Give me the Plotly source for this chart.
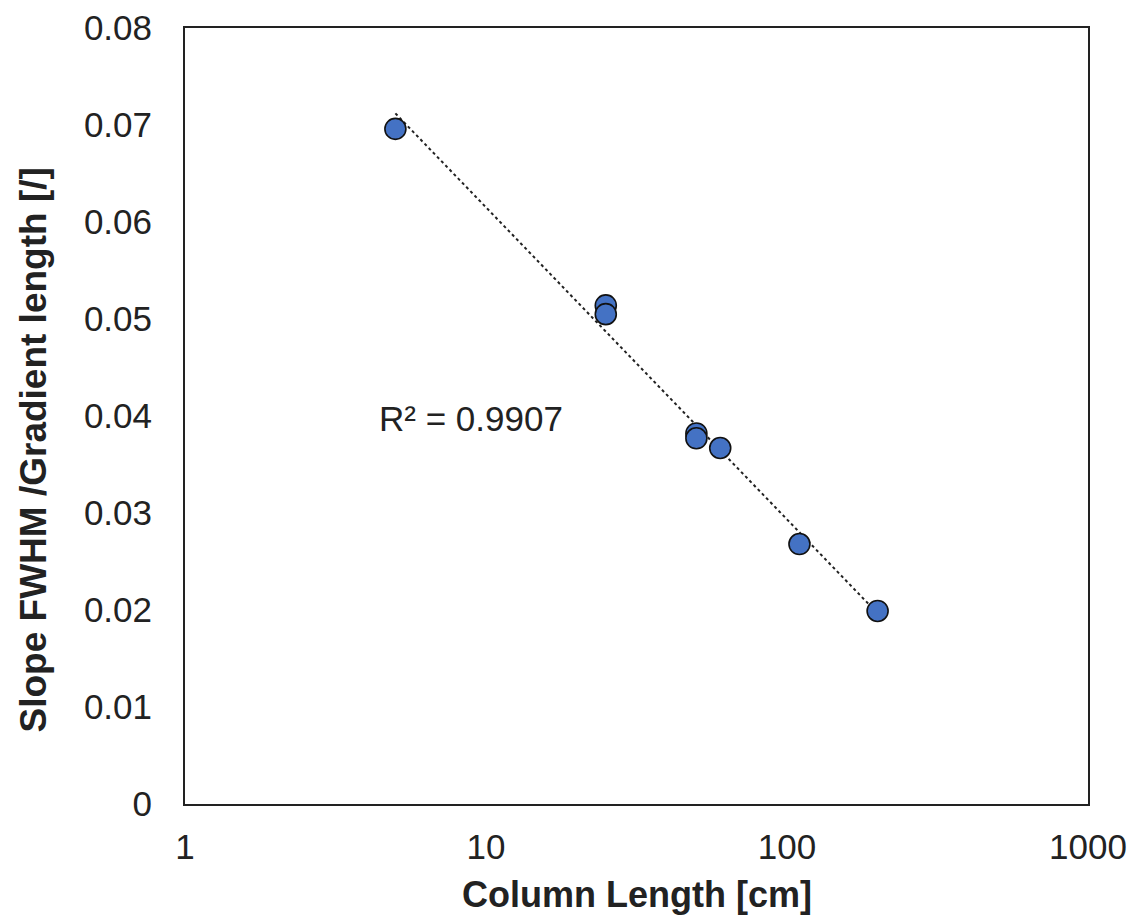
import numpy as np
import plotly.graph_objects as go

# Data
column_length_cm = [5, 25, 25, 50, 50, 60, 110, 200]
slope_ratio = [0.0696, 0.0514, 0.0505, 0.0382, 0.0377, 0.0367, 0.0268, 0.0199]
r2_label = "R² = 0.9907"
x_tickvals = [1, 10, 100, 1000]
x_ticktext = ["1", "10", "100", "1000"]
y_tickvals = [0, 0.01, 0.02, 0.03, 0.04, 0.05, 0.06, 0.07, 0.08]
y_ticktext = ["0", "0.01", "0.02", "0.03", "0.04", "0.05", "0.06", "0.07", "0.08"]

# Logarithmic trendline (Excel-style) fitted to the data
lx = np.log(np.array(column_length_cm, dtype=float))
a, b = np.polyfit(lx, np.array(slope_ratio), 1)
xfit = np.geomspace(min(column_length_cm), max(column_length_cm), 100)
yfit = a * np.log(xfit) + b

FONT = "Liberation Sans, Arial, sans-serif"

fig = go.Figure()
fig.add_trace(go.Scatter(
    x=xfit, y=yfit, mode="lines",
    line=dict(color="#222222", width=2, dash="dot"),
    hoverinfo="skip", showlegend=False,
))
fig.add_trace(go.Scatter(
    x=column_length_cm, y=slope_ratio, mode="markers",
    marker=dict(size=21, color="#4472C4", line=dict(color="#111111", width=1.6)),
    showlegend=False,
))

fig.add_annotation(
    x=np.log10(4.34), y=0.0397, xref="x", yref="y",
    text=r2_label, showarrow=False, xanchor="left", yanchor="middle",
    font=dict(family=FONT, size=35, color="#222222"),
)

# Axis titles as paper annotations for exact placement
fig.add_annotation(
    x=0.5, y=-0.117, xref="paper", yref="paper",
    text="<b>Column Length [cm]</b>", showarrow=False,
    xanchor="center", yanchor="middle",
    font=dict(family=FONT, size=36, color="#222222"),
)
fig.add_annotation(
    x=-0.168, y=0.456, xref="paper", yref="paper",
    text="<b>Slope FWHM /Gradient length [/]</b>", showarrow=False, textangle=-90,
    xanchor="center", yanchor="middle",
    font=dict(family=FONT, size=37, color="#222222"),
)

fig.update_layout(
    width=1130, height=912,
    margin=dict(l=177, r=50, t=20, b=116),
    paper_bgcolor="white", plot_bgcolor="white",
    font=dict(family=FONT, color="#222222"),
    xaxis=dict(
        type="log", range=[0, 3], automargin=False,
        tickvals=x_tickvals, ticktext=x_ticktext,
        tickfont=dict(size=35, family=FONT, color="#222222"),
        showgrid=False, zeroline=False,
        showline=True, linecolor="#222222", linewidth=2, mirror=True,
        ticks="", ticklabelstandoff=11,
    ),
    yaxis=dict(
        range=[0, 0.08], automargin=False,
        tickvals=y_tickvals, ticktext=y_ticktext,
        tickfont=dict(size=35, family=FONT, color="#222222"),
        showgrid=False, zeroline=False,
        showline=True, linecolor="#222222", linewidth=2, mirror=True,
        ticks="", ticklabelstandoff=24,
    ),
)

fig.write_html("out.html")
